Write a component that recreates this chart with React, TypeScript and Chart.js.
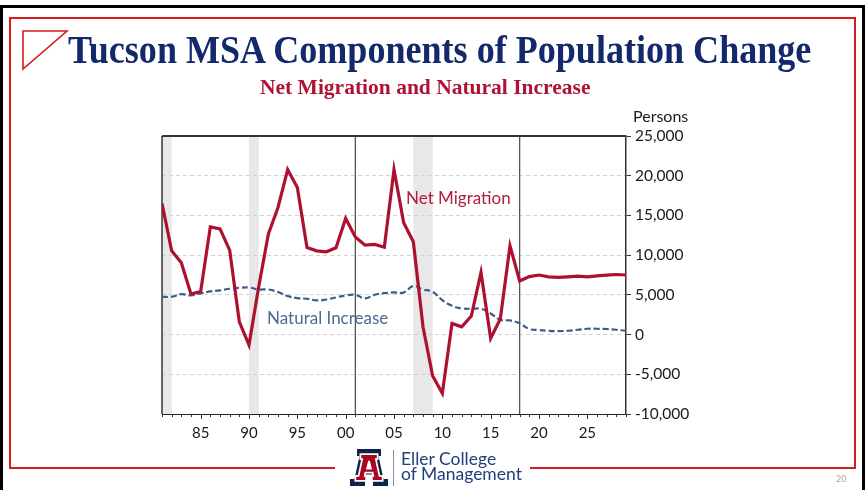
import React, { useEffect, useRef } from "react";
import { Chart, registerables } from "chart.js";

Chart.register(...registerables);

// ---- Data ----
const years = [
  1981, 1982, 1983, 1984, 1985, 1986, 1987, 1988, 1989, 1990,
  1991, 1992, 1993, 1994, 1995, 1996, 1997, 1998, 1999, 2000,
  2001, 2002, 2003, 2004, 2005, 2006, 2007, 2008, 2009, 2010,
  2011, 2012, 2013, 2014, 2015, 2016, 2017, 2018, 2019, 2020,
  2021, 2022, 2023, 2024, 2025, 2026, 2027, 2028, 2029,
];

const netMigration = [
  16500, 10540, 9030, 5090, 5430, 13560, 13310, 10630, 1610, -1320,
  6000, 12640, 16000, 20780, 18520, 10970, 10540, 10420, 10920, 14620,
  12300, 11260, 11350, 11000, 20780, 14070, 11680, 980, -5220, -7400,
  1410, 980, 2330, 7820, -480, 1990, 11170, 6750, 7300, 7500,
  7270, 7190, 7270, 7360, 7270, 7400, 7480, 7560, 7500,
];

const naturalIncrease = [
  4760, 4760, 5090, 4930, 5180, 5430, 5560, 5770, 5890, 5930,
  5680, 5680, 5350, 4840, 4590, 4510, 4300, 4420, 4670, 4930,
  5010, 4550, 5010, 5220, 5300, 5300, 6100, 5680, 5390, 4340,
  3620, 3290, 3250, 3250, 2660, 1860, 1780, 1410, 700, 570,
  480, 440, 480, 610, 730, 730, 700, 610, 480,
];

const xTickYears = [1985, 1990, 1995, 2000, 2005, 2010, 2015, 2020, 2025];
const recessions: [number, number][] = [
  [1981, 1982],
  [1990, 1991],
  [2007, 2009],
];
const dividerYears = [2001, 2018];
const yMin = -10000;
const yMax = 25000;
const yStep = 5000;

// ---- Styles ----
const RED_LINE = "#AE1130";
const BLUE_LINE = "#3E5B8E";
const NAVY = "#13296B";
const FRAME_RED = "#D41C1C";
const FONT = "Lato, 'Open Sans', sans-serif";

const decorPlugin = {
  id: "decor",
  beforeDraw(chart: any) {
    const { ctx, chartArea: a, scales } = chart;
    const x = scales.x;
    ctx.save();
    ctx.fillStyle = "#E8E8E8";
    for (const [s, e] of recessions) {
      const x0 = x.getPixelForValue(s);
      const x1 = x.getPixelForValue(e);
      ctx.fillRect(x0, a.top, x1 - x0, a.bottom - a.top);
    }
    ctx.restore();
  },
  beforeDatasetsDraw(chart: any) {
    const { ctx, chartArea: a, scales } = chart;
    const x = scales.x;
    ctx.save();
    ctx.strokeStyle = "#4a4a4a";
    ctx.lineWidth = 1.2;
    for (const yr of dividerYears) {
      const px = x.getPixelForValue(yr);
      ctx.beginPath();
      ctx.moveTo(px, a.top);
      ctx.lineTo(px, a.bottom);
      ctx.stroke();
    }
    ctx.strokeStyle = "#333";
    ctx.lineWidth = 2;
    ctx.beginPath();
    ctx.moveTo(a.left, a.top);
    ctx.lineTo(a.right, a.top);
    ctx.stroke();
    ctx.lineWidth = 1.5;
    ctx.beginPath();
    ctx.moveTo(a.left, a.top);
    ctx.lineTo(a.left, a.bottom);
    ctx.stroke();
    ctx.restore();
  },
  afterDraw(chart: any) {
    const { ctx, chartArea: a, scales } = chart;
    const x = scales.x;
    ctx.save();
    ctx.strokeStyle = "#333";
    ctx.lineWidth = 1;
    for (const yr of years) {
      const px = Math.round(x.getPixelForValue(yr)) + 0.5;
      const len = xTickYears.includes(yr) ? 5 : 3;
      ctx.beginPath();
      ctx.moveTo(px, a.bottom);
      ctx.lineTo(px, a.bottom + len);
      ctx.stroke();
    }
    ctx.restore();
  },
};

const A_OUTER =
  "M7 0 L31 0 L31 7 L28.5 7 L33.5 30 L38 30 L38 37 L23 37 L23 30 L25 30 L24 25.5 L14 25.5 L13 30 L15 30 L15 37 L0 37 L0 30 L4.5 30 L9.5 7 L7 7 Z " +
  "M16.3 20 L21.7 20 L19 9.5 Z";

export default function App() {
  const canvasRef = useRef<HTMLCanvasElement | null>(null);

  useEffect(() => {
    const canvas = canvasRef.current;
    if (!canvas) return;
    const chart = new Chart(canvas, {
      type: "line",
      data: {
        datasets: [
          {
            label: "Net Migration",
            data: years.map((yr, i) => ({ x: yr, y: netMigration[i] })),
            borderColor: RED_LINE,
            borderWidth: 3.2,
            pointRadius: 0,
            tension: 0,
            fill: false,
          },
          {
            label: "Natural Increase",
            data: years.map((yr, i) => ({ x: yr, y: naturalIncrease[i] })),
            borderColor: BLUE_LINE,
            borderWidth: 2.2,
            borderDash: [6, 3],
            pointRadius: 0,
            tension: 0.4,
            fill: false,
          },
        ],
      },
      options: {
        responsive: false,
        animation: false,
        devicePixelRatio: 1,
        layout: { padding: { left: 162, top: 136, right: 171, bottom: 26 } },
        plugins: {
          legend: { display: false },
          tooltip: { enabled: false },
        },
        font: { family: FONT },
        scales: {
          x: {
            type: "linear",
            min: years[0],
            max: years[years.length - 1],
            afterBuildTicks: (s: any) => {
              s.ticks = xTickYears.map((v) => ({ value: v }));
            },
            afterFit: (s: any) => {
              s.height = 50;
            },
            ticks: {
              autoSkip: false,
              maxRotation: 0,
              padding: 2,
              color: "#1a1a1a",
              font: { family: FONT, size: 15 },
              callback: (v: any) => String(Number(v) % 100).padStart(2, "0"),
            },
            grid: { display: false },
            border: { display: true, color: "#222", width: 1 },
          },
          y: {
            position: "right",
            min: yMin,
            max: yMax,
            afterFit: (s: any) => {
              s.width = 70;
            },
            ticks: {
              stepSize: yStep,
              padding: 4,
              color: "#1a1a1a",
              font: { family: FONT, size: 15.5 },
              callback: (v: any) => Number(v).toLocaleString("en-US"),
            },
            grid: {
              drawTicks: true,
              tickLength: 5,
              tickColor: "#333",
              lineWidth: 1,
              color: (c: any) =>
                c.tick && (c.tick.value === yMax || c.tick.value === yMin)
                  ? "rgba(0,0,0,0)"
                  : "#D2D2D2",
            },
            border: { display: true, color: "#333", width: 1.5, dash: [4, 3] },
          },
        },
      },
      plugins: [decorPlugin],
    } as any);
    return () => chart.destroy();
  }, []);

  const abs = (s: React.CSSProperties): React.CSSProperties => ({
    position: "absolute",
    whiteSpace: "nowrap",
    lineHeight: 1,
    ...s,
  });

  return (
    <div
      style={{
        position: "fixed",
        left: 0,
        top: 0,
        width: 867,
        height: 490,
        background: "#fff",
        overflow: "hidden",
      }}
    >
      <canvas
        ref={canvasRef}
        width={867}
        height={490}
        style={{ position: "absolute", left: 0, top: 0, width: 867, height: 490 }}
      />
      {/* outer black frame */}
      <div
        style={{
          position: "absolute",
          left: 0,
          top: 5,
          width: 865,
          height: 500,
          boxSizing: "border-box",
          border: "3px solid #000",
          borderBottom: "none",
        }}
      />
      {/* red frame */}
      <div
        style={{
          position: "absolute",
          left: 9,
          top: 17,
          width: 847,
          height: 452,
          boxSizing: "border-box",
          border: `2px solid ${FRAME_RED}`,
          borderBottom: "none",
        }}
      />
      <div style={{ position: "absolute", left: 9, top: 467, width: 326, height: 2, background: FRAME_RED }} />
      <div style={{ position: "absolute", left: 530, top: 467, width: 326, height: 2, background: FRAME_RED }} />
      {/* corner triangle */}
      <svg style={{ position: "absolute", left: 0, top: 0 }} width={100} height={100}>
        <polygon points="23,31 67,31 23,69" fill="none" stroke={FRAME_RED} strokeWidth={1.6} />
      </svg>
      {/* title */}
      <div
        style={abs({
          left: 68,
          top: 29.5,
          fontFamily: "'Liberation Serif', 'Times New Roman', serif",
          fontWeight: 700,
          fontSize: 39,
          color: NAVY,
          transform: "scaleX(0.925)",
          transformOrigin: "0 0",
        })}
      >
        Tucson MSA Components of Population Change
      </div>
      <div
        style={abs({
          left: 260,
          top: 77,
          fontFamily: "'Liberation Serif', 'Times New Roman', serif",
          fontWeight: 700,
          fontSize: 21.5,
          color: "#AF1233",
        })}
      >
        Net Migration and Natural Increase
      </div>
      {/* axis unit */}
      <div style={abs({ left: 633, top: 107.5, fontFamily: FONT, fontSize: 16, color: "#1a1a1a" })}>Persons</div>
      {/* series annotations */}
      <div style={abs({ left: 406, top: 189, fontFamily: FONT, fontSize: 17, color: "#B01F3C" })}>Net Migration</div>
      <div style={abs({ left: 267, top: 309, fontFamily: FONT, fontSize: 17, color: "#4E6896" })}>Natural Increase</div>
      {/* footer logo */}
      <svg style={{ position: "absolute", left: 350, top: 449 }} width={38} height={37} viewBox="0 0 38 37">
        <path d={A_OUTER} fill="#0C234B" fillRule="evenodd" />
        <g transform="translate(19 18.5) scale(0.72) translate(-19 -18.5)">
          <path d={A_OUTER} fill="#AB0520" fillRule="evenodd" stroke="#fff" strokeWidth={2.4} />
        </g>
      </svg>
      <div style={{ position: "absolute", left: 393, top: 450, width: 1, height: 36, background: "#8090B0" }} />
      <div style={abs({ left: 401, top: 449.5, fontFamily: FONT, fontSize: 17.5, color: "#20407A" })}>Eller College</div>
      <div style={abs({ left: 401, top: 465, fontFamily: FONT, fontSize: 17.5, color: "#20407A" })}>of Management</div>
      <div style={abs({ left: 836, top: 474, fontFamily: FONT, fontSize: 9, color: "#A8A8A8" })}>20</div>
    </div>
  );
}
